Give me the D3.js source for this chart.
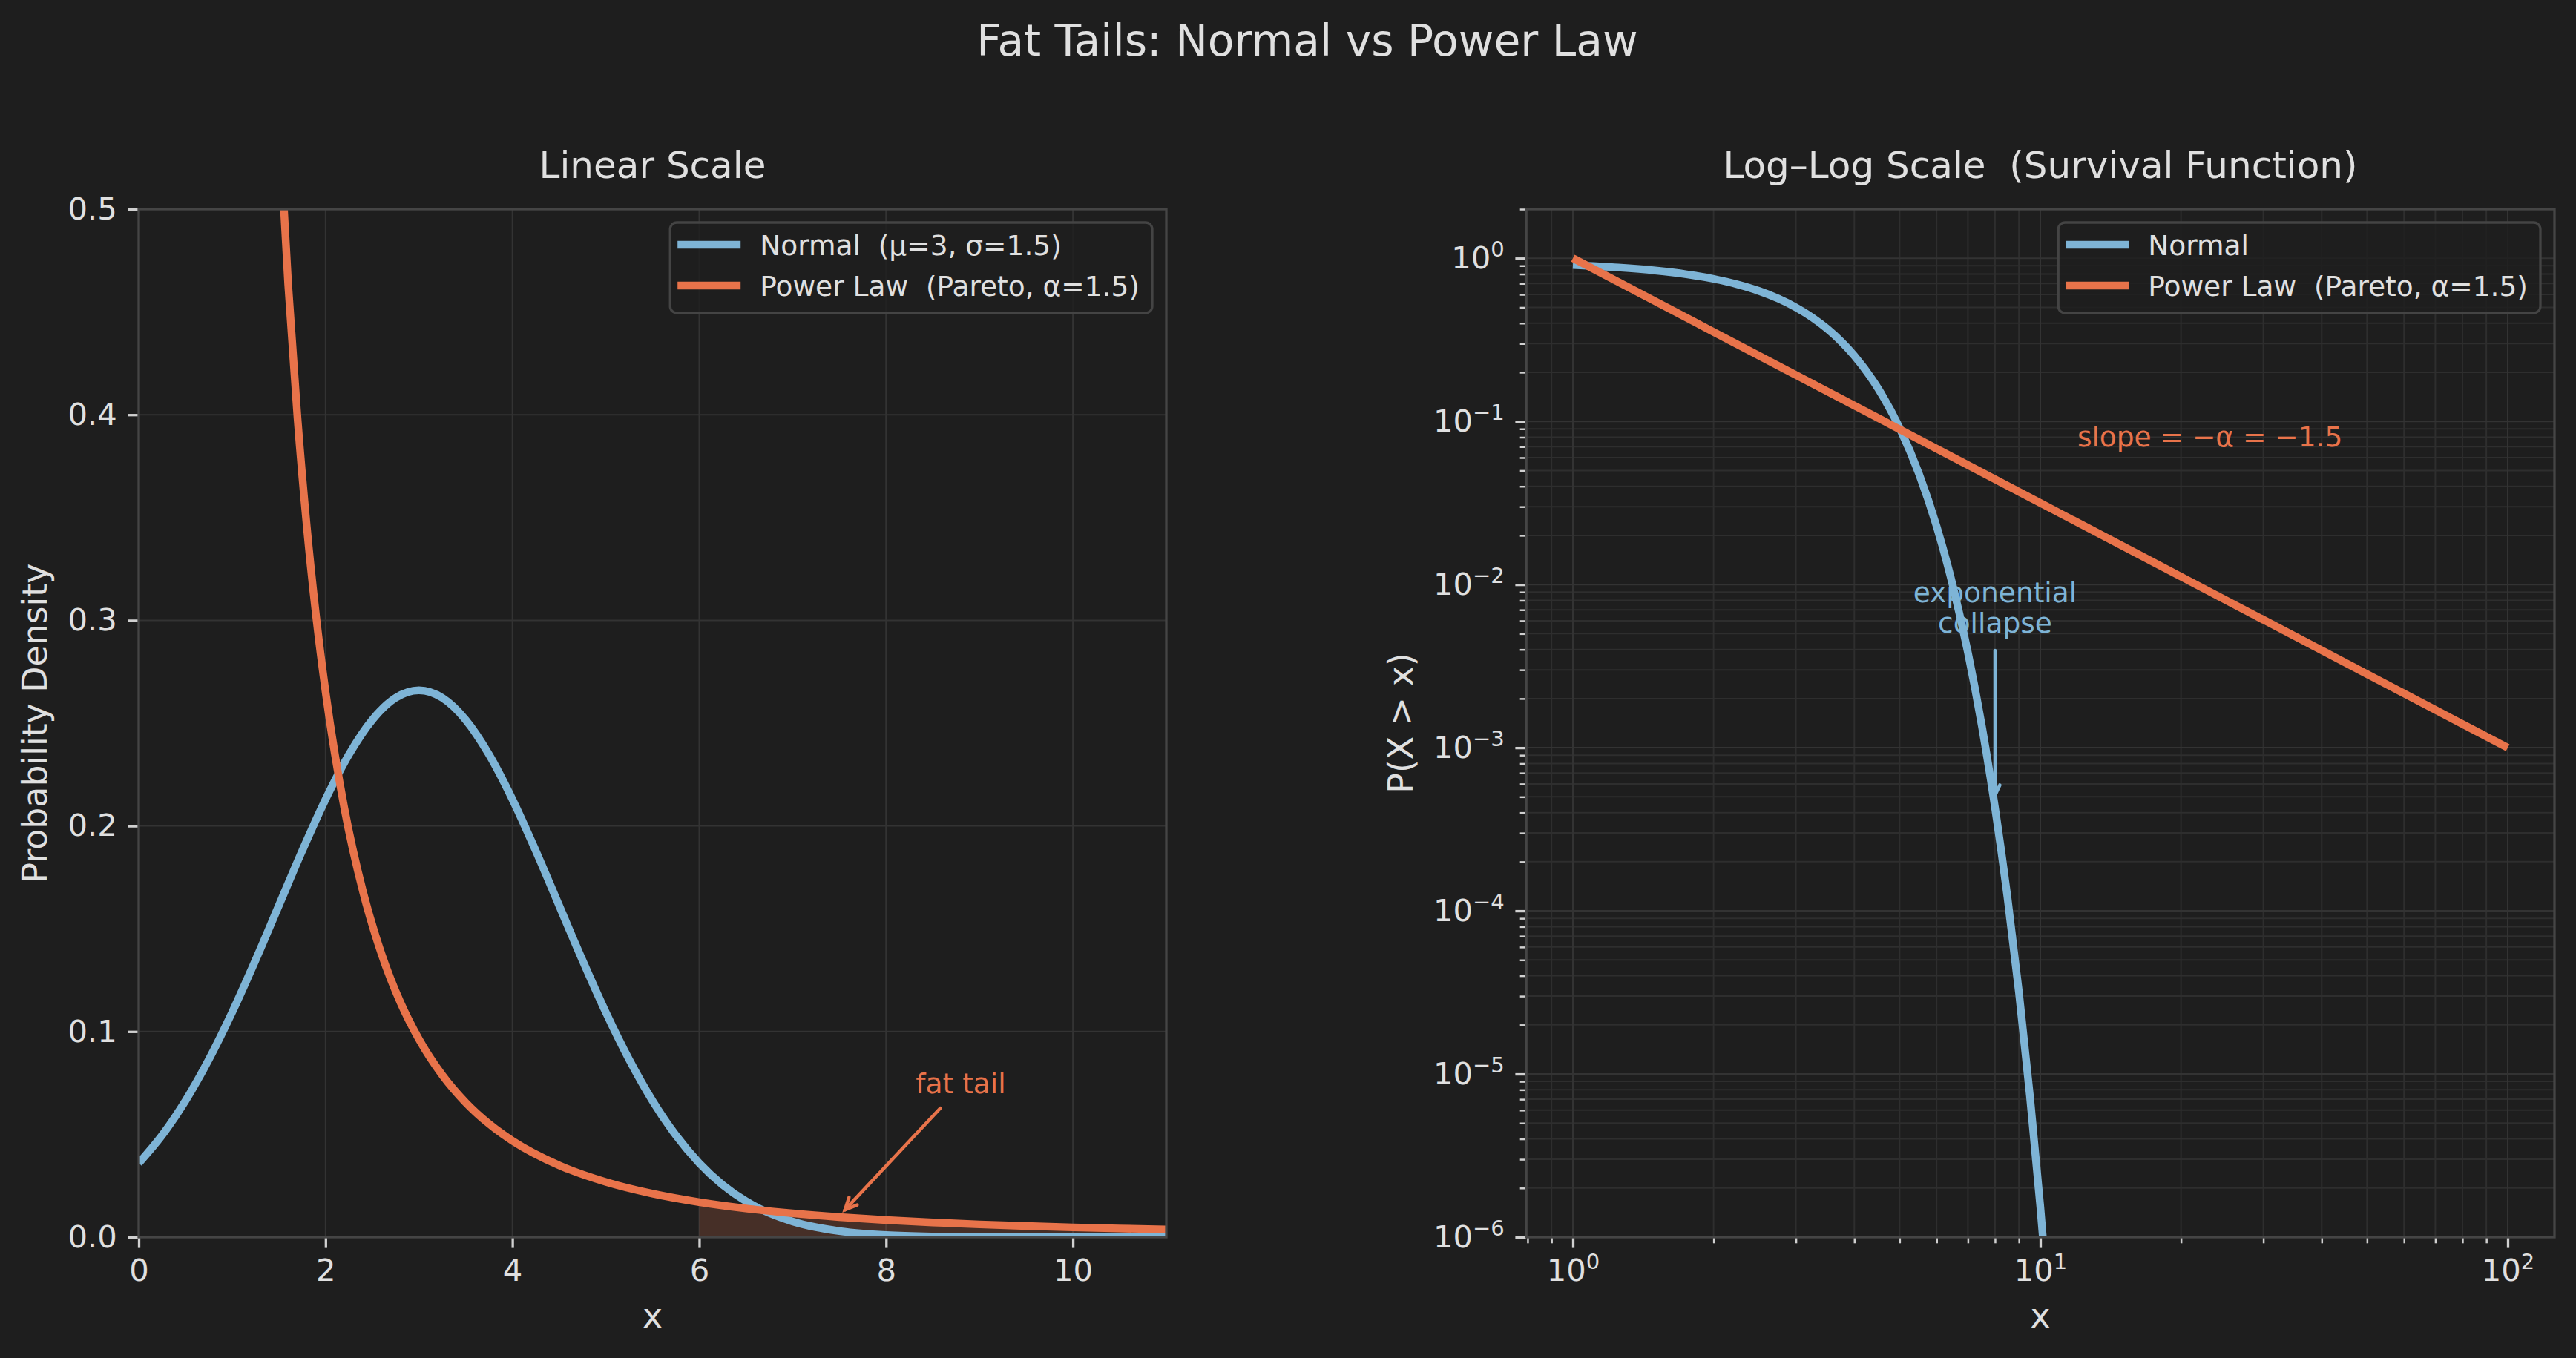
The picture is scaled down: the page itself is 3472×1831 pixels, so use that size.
<!DOCTYPE html>
<html><head><meta charset="utf-8">
<script src="https://cdn.jsdelivr.net/npm/d3@7"></script>
<style>
html,body{margin:0;padding:0;background:#1e1e1e;}
svg text{font-family:"DejaVu Sans",sans-serif;white-space:pre;}
</style></head><body>
<svg id="chart" width="3472" height="1831" xmlns="http://www.w3.org/2000/svg"></svg>
<script>
// ---------------- DATA ----------------
const pdfX = [0,0.25,0.5,0.75,1,1.25,1.5,1.75,2,2.25,2.5,2.75,3,3.25,3.5,3.75,4,4.25,4.5,4.75,5,5.25,5.5,5.75,6,6.25,6.5,6.75,7,7.25,7.5,7.75,8,8.5,9,9.5,10,10.5,11];
const normalPdf = [0.035994,0.049541,0.066318,0.086345,0.109340,0.134667,0.161314,0.187942,0.212966,0.234711,0.251589,0.262294,0.265962,0.262294,0.251589,0.234711,0.212966,0.187942,0.161314,0.134667,0.109340,0.086345,0.066318,0.049541,0.035994,0.025435,0.017481,0.011686,0.007597,0.004804,0.002955,0.001767,0.001028,0.000320,0.0000892,0.0000222,0.00000496,0.000001,0.0000002];
const paretoX = [1.4,1.5,1.6,1.7,1.8,1.9,2.0,2.2,2.4,2.6,2.8,3.0,3.25,3.5,3.75,4.0,4.5,5.0,5.5,6.0,6.5,7.0,7.5,8.0,8.5,9.0,9.5,10,10.5,11];
const paretoPdf = [0.6468,0.5443,0.4632,0.3981,0.3451,0.3014,0.2652,0.2089,0.1681,0.1376,0.1143,0.09623,0.07877,0.06545,0.05508,0.046875,0.03492,0.02683,0.02114,0.01701,0.01393,0.01157,0.009737,0.008286,0.007121,0.006173,0.005392,0.004743,0.004199,0.003738];
const tailStart = 6;

const sfX = [1,1.25,1.5,1.75,2,2.25,2.5,2.75,3,3.25,3.5,3.75,4,4.5,5,5.5,6,6.5,7,7.5,8,8.5,9,9.5,10,10.5];
const normalSf = [0.90879,0.87833,0.84134,0.79767,0.74751,0.69146,0.63056,0.56618,0.5,0.43382,0.36944,0.30854,0.25249,0.15866,0.09121,0.04779,0.02275,0.009815,0.003830,0.0013499,0.0004291,0.0001229,0.00003167,0.00000734,0.000001531,0.0000002867];
const paretoSfX = [1,2,5,10,20,50,100];
const paretoSf = [1,0.35355,0.089443,0.031623,0.011180,0.0028284,0.001];

const linXTicks = [0,2,4,6,8,10];
const linYTicks = [0,0.1,0.2,0.3,0.4,0.5];
const logXTicks = [1,10,100];
const logYTicks = [1,1e-1,1e-2,1e-3,1e-4,1e-5,1e-6];
const logXMinor = [0.8,0.9,2,3,4,5,6,7,8,9,20,30,40,50,60,70,80,90];
const logYMinor = [];
[-6,-5,-4,-3,-2,-1,0].forEach(k => [2,3,4,5,6,7,8,9].forEach(m => { const v = m*Math.pow(10,k); if (v <= 2) logYMinor.push(v); }));

const legendLinear = ["Normal  (\u03bc=3, \u03c3=1.5)", "Power Law  (Pareto, \u03b1=1.5)"];
const legendLog = ["Normal", "Power Law  (Pareto, \u03b1=1.5)"];
const titleText = "Fat Tails: Normal vs Power Law";
const leftTitle = "Linear Scale";
const rightTitle = "Log\u2013Log Scale  (Survival Function)";

// annotations (data coords)
const fatTail = {label:"fat tail", tx:8.8, ty:0.07, ax:8.58, ay:0.0627, px:7.56, py:0.0133};
const expColl = {lines:["exponential","collapse"], tx:8, ty:0.00778, ax:8, ay:0.00394, px:8, py:0.00051};
const slope = {label:"slope = \u2212\u03b1 = \u22121.5", tx:12, ty:0.07};

// ---------------- STYLE ----------------
const BG = "#1e1e1e", TXT = "#e0e0e0", SPINE = "#454545", GRID = "#333333", GRIDMIN = "#2e2e2e";
const BLUE = "#7eb4d6", ORANGE = "#e8734a";
const LW = 10.4;
const TICKFS = 41.7, LABFS = 45.8, TITFS = 50, SUPFS = 58.3, LEGFS = 37.5, ANNFS = 37.5;

const svg = d3.select("#chart");
svg.append("rect").attr("width",3472).attr("height",1831).attr("fill",BG);

const L = {x0:187, x1:1572, y0:282, y1:1668};
const R = {x0:2057, x1:3443, y0:282, y1:1668};

const xL = d3.scaleLinear().domain([0,11]).range([L.x0,L.x1]);
const yL = d3.scaleLinear().domain([0,0.5]).range([L.y1,L.y0]);
const xR = d3.scaleLog().domain([Math.pow(10,-0.1),Math.pow(10,2.1)]).range([R.x0,R.x1]);
const yR = d3.scaleLog().domain([1e-6,2]).range([R.y1,R.y0]);

const defs = svg.append("defs");
[["clipL",L],["clipR",R]].forEach(([id,a]) => {
  defs.append("clipPath").attr("id",id).append("rect")
    .attr("x",a.x0).attr("y",a.y0).attr("width",a.x1-a.x0).attr("height",a.y1-a.y0);
});

// title
svg.append("text").attr("x",1762).attr("y",75).attr("text-anchor","middle")
  .attr("font-size",SUPFS).attr("fill",TXT).text(titleText);
svg.append("text").attr("x",(L.x0+L.x1)/2).attr("y",240).attr("text-anchor","middle")
  .attr("font-size",TITFS).attr("fill",TXT).text(leftTitle);
svg.append("text").attr("x",(R.x0+R.x1)/2).attr("y",240).attr("text-anchor","middle")
  .attr("font-size",TITFS).attr("fill",TXT).text(rightTitle);

// ---------------- LEFT PANEL ----------------
const gL = svg.append("g");
const gridL = gL.append("g");
linXTicks.forEach(t => gridL.append("line").attr("x1",xL(t)).attr("x2",xL(t)).attr("y1",L.y0).attr("y2",L.y1).attr("stroke",GRID).attr("stroke-width",2));
linYTicks.forEach(t => gridL.append("line").attr("y1",yL(t)).attr("y2",yL(t)).attr("x1",L.x0).attr("x2",L.x1).attr("stroke",GRID).attr("stroke-width",2));

const plotL = gL.append("g").attr("clip-path","url(#clipL)");
const tailPts = paretoX.map((x,i)=>[x,paretoPdf[i]]).filter(d=>d[0]>=tailStart);
plotL.append("path").datum(tailPts)
  .attr("d", d3.area().x(d=>xL(d[0])).y0(yL(0)).y1(d=>yL(d[1])).curve(d3.curveMonotoneX))
  .attr("fill",ORANGE).attr("fill-opacity",0.2);
plotL.append("path").datum(pdfX.map((x,i)=>[x,normalPdf[i]]))
  .attr("d", d3.line().x(d=>xL(d[0])).y(d=>yL(d[1])).curve(d3.curveMonotoneX))
  .attr("fill","none").attr("stroke",BLUE).attr("stroke-width",LW).attr("stroke-linejoin","round");
plotL.append("path").datum(paretoX.map((x,i)=>[x,paretoPdf[i]]))
  .attr("d", d3.line().x(d=>xL(d[0])).y(d=>yL(d[1])).curve(d3.curveMonotoneX))
  .attr("fill","none").attr("stroke",ORANGE).attr("stroke-width",LW).attr("stroke-linejoin","round");

function arrow(g, x1,y1,x2,y2,color,headL,headW,lw){
  g.append("line").attr("x1",x1).attr("y1",y1).attr("x2",x2).attr("y2",y2)
   .attr("stroke",color).attr("stroke-width",lw).attr("stroke-linecap","round");
  const dx=x2-x1, dy=y2-y1, len=Math.hypot(dx,dy), ux=dx/len, uy=dy/len, nx=-uy, ny=ux;
  const bx=x2-ux*headL, by=y2-uy*headL;
  g.append("path").attr("d",`M${bx+nx*headW},${by+ny*headW}L${x2},${y2}L${bx-nx*headW},${by-ny*headW}`)
   .attr("fill","none").attr("stroke",color).attr("stroke-width",lw).attr("stroke-linecap","round").attr("stroke-linejoin","miter");
}

// fat tail annotation
gL.append("text").attr("x",xL(fatTail.tx)).attr("y",yL(fatTail.ty)).attr("text-anchor","middle")
  .attr("font-size",ANNFS).attr("fill",ORANGE).text(fatTail.label);
arrow(gL, xL(fatTail.ax), yL(fatTail.ay), xL(fatTail.px), yL(fatTail.py), ORANGE, 16, 7.5, 4.5);

// axes left
function styleAxis(g){
  g.select(".domain").remove();
  g.selectAll(".tick line").attr("stroke","#d0d0d0").attr("stroke-width",3.3);
  g.selectAll(".tick text").attr("fill",TXT).attr("font-size",TICKFS).attr("font-family","DejaVu Sans");
}
const axLx = gL.append("g").attr("transform",`translate(0,${L.y1})`)
  .call(d3.axisBottom(xL).tickValues(linXTicks).tickFormat(d3.format("d")).tickSize(14.6).tickPadding(14.6));
styleAxis(axLx);
const axLy = gL.append("g").attr("transform",`translate(${L.x0},0)`)
  .call(d3.axisLeft(yL).tickValues(linYTicks).tickFormat(d3.format(".1f")).tickSize(14.6).tickPadding(14.6));
styleAxis(axLy);

gL.append("rect").attr("x",L.x0).attr("y",L.y0).attr("width",L.x1-L.x0).attr("height",L.y1-L.y0)
  .attr("fill","none").attr("stroke",SPINE).attr("stroke-width",3.3);

gL.append("text").attr("x",(L.x0+L.x1)/2).attr("y",1790).attr("text-anchor","middle")
  .attr("font-size",LABFS).attr("fill",TXT).text("x");
gL.append("text").attr("transform",`translate(63,${(L.y0+L.y1)/2}) rotate(-90)`).attr("text-anchor","middle")
  .attr("font-size",LABFS).attr("fill",TXT).text("Probability Density");

// legend
function legend(g, ax, labels){
  const lg = g.append("g");
  const boxRight = ax.x1 - 19, boxTop = ax.y0 + 18, boxH = 122;
  const rowY = [boxTop+30, boxTop+85];
  const tmp = labels.map((t,i)=>lg.append("text").attr("y",rowY[i]+14).attr("font-size",LEGFS).attr("fill",TXT).text(t));
  const maxW = d3.max(tmp, t=>t.node().getComputedTextLength());
  const textX = boxRight - 17 - maxW;
  const hx1 = textX - 26, hx0 = hx1 - 85, boxLeft = hx0 - 10;
  lg.insert("rect",":first-child").attr("x",boxLeft).attr("y",boxTop).attr("width",boxRight-boxLeft).attr("height",boxH)
    .attr("rx",9).attr("fill",BG).attr("fill-opacity",0.8).attr("stroke","#444444").attr("stroke-width",3.3);
  tmp.forEach(t=>t.attr("x",textX));
  [BLUE,ORANGE].forEach((c,i)=>lg.append("line").attr("x1",hx0).attr("x2",hx1).attr("y1",rowY[i]).attr("y2",rowY[i])
    .attr("stroke",c).attr("stroke-width",LW));
}
legend(gL, L, legendLinear);

// ---------------- RIGHT PANEL ----------------
const gR = svg.append("g");
const gridR = gR.append("g");
logXMinor.forEach(t => gridR.append("line").attr("x1",xR(t)).attr("x2",xR(t)).attr("y1",R.y0).attr("y2",R.y1).attr("stroke",GRIDMIN).attr("stroke-width",2));
logYMinor.forEach(t => gridR.append("line").attr("y1",yR(t)).attr("y2",yR(t)).attr("x1",R.x0).attr("x2",R.x1).attr("stroke",GRIDMIN).attr("stroke-width",2));
logXTicks.forEach(t => gridR.append("line").attr("x1",xR(t)).attr("x2",xR(t)).attr("y1",R.y0).attr("y2",R.y1).attr("stroke",GRID).attr("stroke-width",2));
logYTicks.forEach(t => gridR.append("line").attr("y1",yR(t)).attr("y2",yR(t)).attr("x1",R.x0).attr("x2",R.x1).attr("stroke",GRID).attr("stroke-width",2));

const plotR = gR.append("g").attr("clip-path","url(#clipR)");
plotR.append("path").datum(sfX.map((x,i)=>[x,normalSf[i]]))
  .attr("d", d3.line().x(d=>xR(d[0])).y(d=>yR(d[1])).curve(d3.curveMonotoneX))
  .attr("fill","none").attr("stroke",BLUE).attr("stroke-width",LW).attr("stroke-linejoin","round");
plotR.append("path").datum(paretoSfX.map((x,i)=>[x,paretoSf[i]]))
  .attr("d", d3.line().x(d=>xR(d[0])).y(d=>yR(d[1])))
  .attr("fill","none").attr("stroke",ORANGE).attr("stroke-width",LW).attr("stroke-linejoin","round");

// annotations right
const ec = gR.append("text").attr("x",xR(expColl.tx)).attr("y",yR(expColl.ty)).attr("text-anchor","middle")
  .attr("font-size",ANNFS).attr("fill",BLUE);
expColl.lines.forEach((l,i)=>ec.append("tspan").attr("x",xR(expColl.tx)).attr("dy",i===0?0:"1.1em").text(l));
arrow(gR, xR(expColl.ax), yR(expColl.ay), xR(expColl.px), yR(expColl.py), BLUE, 14, 6.5, 4.5);
gR.append("text").attr("x",xR(slope.tx)).attr("y",yR(slope.ty)).attr("text-anchor","start")
  .attr("font-size",ANNFS).attr("fill",ORANGE).text(slope.label);

// axes right
function supLabels(g){
  g.selectAll(".tick text").each(function(d){
    const e = Math.round(Math.log10(d));
    const t = d3.select(this); t.text("10");
    t.append("tspan").attr("dy",-16).attr("font-size",29).text(e<0 ? "\u2212"+(-e) : String(e));
  });
}
const axRx = gR.append("g").attr("transform",`translate(0,${R.y1})`)
  .call(d3.axisBottom(xR).tickValues(logXTicks).tickSize(14.6).tickPadding(14.6));
styleAxis(axRx); supLabels(axRx);
const axRxm = gR.append("g").attr("transform",`translate(0,${R.y1})`)
  .call(d3.axisBottom(xR).tickValues(logXMinor).tickFormat("").tickSize(8.3));
axRxm.select(".domain").remove(); axRxm.selectAll(".tick line").attr("stroke","#d0d0d0").attr("stroke-width",2.5);
const axRy = gR.append("g").attr("transform",`translate(${R.x0},0)`)
  .call(d3.axisLeft(yR).tickValues(logYTicks).tickSize(14.6).tickPadding(14.6));
styleAxis(axRy); supLabels(axRy);
const axRym = gR.append("g").attr("transform",`translate(${R.x0},0)`)
  .call(d3.axisLeft(yR).tickValues(logYMinor).tickFormat("").tickSize(8.3));
axRym.select(".domain").remove(); axRym.selectAll(".tick line").attr("stroke","#d0d0d0").attr("stroke-width",2.5);

gR.append("rect").attr("x",R.x0).attr("y",R.y0).attr("width",R.x1-R.x0).attr("height",R.y1-R.y0)
  .attr("fill","none").attr("stroke",SPINE).attr("stroke-width",3.3);

gR.append("text").attr("x",(R.x0+R.x1)/2).attr("y",1790).attr("text-anchor","middle")
  .attr("font-size",LABFS).attr("fill",TXT).text("x");
gR.append("text").attr("transform",`translate(1904,${(R.y0+R.y1)/2}) rotate(-90)`).attr("text-anchor","middle")
  .attr("font-size",LABFS).attr("fill",TXT).text("P(X > x)");

legend(gR, R, legendLog);
</script>
</body></html>
